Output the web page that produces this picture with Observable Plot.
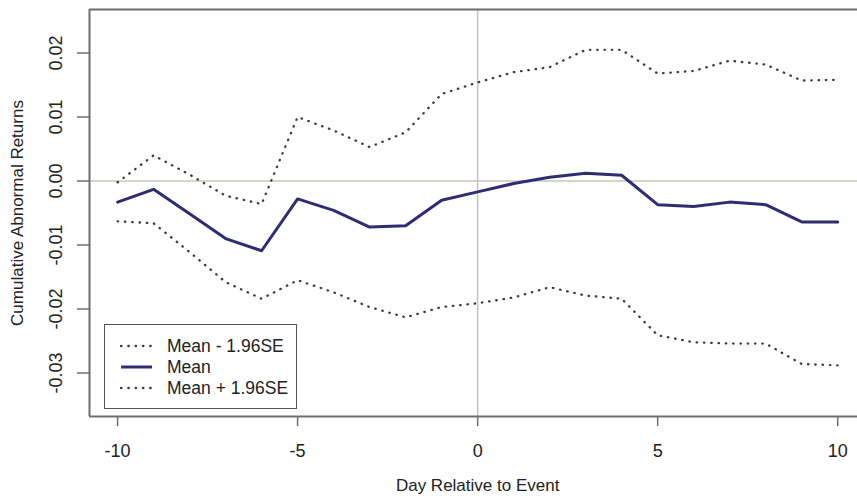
<!DOCTYPE html>
<html>
<head>
<meta charset="utf-8">
<script src="https://cdn.jsdelivr.net/npm/d3@7"></script>
<script src="https://cdn.jsdelivr.net/npm/@observablehq/plot@0.6"></script>
<style>
  html, body { margin: 0; padding: 0; background: #fff; overflow: hidden; }
  #wrap { position: relative; width: 857px; height: 502px; }
  .legend {
    position: absolute; left: 104px; top: 324px; width: 193px; height: 85px;
    box-sizing: border-box; border: 1.5px solid #555; background: #fff;
    font: 17.5px "Liberation Sans", Arial, sans-serif; color: #222;
  }
  .legend .row { position: absolute; left: 0; height: 20px; line-height: 20px; white-space: nowrap; }
  .legend svg { position: absolute; left: 15px; top: 5px; }
  .legend span { position: absolute; left: 62px; top: 0; }
</style>
</head>
<body>
<div id="wrap"></div>
<script>
// Event window (days relative to the event)
const days = [-10, -9, -8, -7, -6, -5, -4, -3, -2, -1, 0, 1, 2, 3, 4, 5, 6, 7, 8, 9, 10];

// Cumulative abnormal returns: mean and the 95% band
const meanCar = [-0.0033, -0.0013, -0.0051, -0.0090, -0.0109, -0.0028, -0.0046, -0.0072, -0.0070, -0.0030,
                 -0.0017, -0.0004, 0.0006, 0.0012, 0.0009, -0.0037, -0.0040, -0.0033, -0.0037, -0.0064, -0.0064];
const lowerCar = [-0.0063, -0.0066, -0.0111, -0.0158, -0.0184, -0.0155, -0.0174, -0.0197, -0.0213, -0.0197,
                  -0.0191, -0.0182, -0.0166, -0.0179, -0.0184, -0.0241, -0.0252, -0.0254, -0.0254, -0.0286, -0.0288];
const upperCar = [-0.0002, 0.0040, 0.0010, -0.0023, -0.0036, 0.0100, 0.0079, 0.0053, 0.0076, 0.0136,
                  0.0154, 0.0170, 0.0178, 0.0205, 0.0205, 0.0168, 0.0172, 0.0188, 0.0182, 0.0157, 0.0158];

// Axis ticks
const xTicks = [-10, -5, 0, 5, 10];
const yTicks = [-0.03, -0.02, -0.01, 0.00, 0.01, 0.02];

// Legend entries
const legendLabels = ["Mean - 1.96SE", "Mean", "Mean + 1.96SE"];

const xDomain = [-10.78, 10.55];
const yDomain = [-0.0368, 0.0268];

const rows = days.map((d, i) => ({day: d, mean: meanCar[i], lo: lowerCar[i], hi: upperCar[i]}));

const frameColor = "#6e6e6e";
const meanColor = "#2e2d73";
const dotted = {stroke: "#3c3c3c", strokeWidth: 2.3, strokeDasharray: "0.5 6.8", strokeLinecap: "round"};
const font = "'Liberation Sans', Arial, sans-serif";

const hyphenFmt = (digits) => (v) => (v < 0 ? "-" : "") + Math.abs(v).toFixed(digits);

const chart = Plot.plot({
  width: 857,
  height: 502,
  marginLeft: 89,
  marginRight: 0,
  marginTop: 9,
  marginBottom: 86,
  x: {domain: xDomain},
  y: {domain: yDomain},
  style: {fontFamily: font, fontSize: "17px", color: "#222", background: "#fff", overflow: "visible"},
  marks: [
    // reference lines at zero
    Plot.ruleY([0], {stroke: "#cdc5bd", strokeWidth: 1.6}),
    Plot.ruleX([0], {stroke: "#cdc5bd", strokeWidth: 1.6}),
    // confidence band
    Plot.line(rows, {x: "day", y: "lo", ...dotted}),
    Plot.line(rows, {x: "day", y: "hi", ...dotted}),
    // mean CAR
    Plot.line(rows, {x: "day", y: "mean", stroke: meanColor, strokeWidth: 3, strokeLinejoin: "round"}),
    // plot box (left, top, bottom)
    Plot.ruleY([yDomain[0]], {stroke: frameColor, strokeWidth: 2}),
    Plot.ruleY([yDomain[1]], {stroke: frameColor, strokeWidth: 2}),
    Plot.ruleX([xDomain[0]], {stroke: frameColor, strokeWidth: 2}),
    // axes
    Plot.axisX(xTicks, {
      tickSize: 10, tickPadding: 18, stroke: frameColor, strokeWidth: 1.5, fill: "#222",
      fontSize: 18, label: null, tickFormat: hyphenFmt(0)
    }),
    Plot.axisY(yTicks, {
      tickSize: 12, tickPadding: 16, tickRotate: -90, stroke: frameColor, strokeWidth: 1.5, fill: "#222",
      fontSize: 18, label: null, tickFormat: hyphenFmt(2)
    }),
    // axis titles
    Plot.text(["Day Relative to Event"], {text: d => d, x: 0, frameAnchor: "bottom", dy: 74, fill: "#222"}),
    Plot.text(["Cumulative Abnormal Returns"], {
      text: d => d, frameAnchor: "left", textAnchor: "middle", dx: -72, rotate: -90, fill: "#222"
    })
  ]
});

const wrap = document.getElementById("wrap");
wrap.appendChild(chart);

// Legend box in the lower-left corner of the panel
const legend = document.createElement("div");
legend.className = "legend";
const rowCenters = [21, 42, 63];
const swatch = [
  `<line x1="1" y1="5" x2="32" y2="5" stroke="#3c3c3c" stroke-width="2.3" stroke-dasharray="0.5 6.8" stroke-linecap="round"/>`,
  `<line x1="1" y1="5" x2="32" y2="5" stroke="${meanColor}" stroke-width="3"/>`,
  `<line x1="1" y1="5" x2="32" y2="5" stroke="#3c3c3c" stroke-width="2.3" stroke-dasharray="0.5 6.8" stroke-linecap="round"/>`
];
legendLabels.forEach((label, i) => {
  const row = document.createElement("div");
  row.className = "row";
  row.style.top = (rowCenters[i] - 10) + "px";
  row.innerHTML = `<svg width="34" height="10">${swatch[i]}</svg><span>${label}</span>`;
  legend.appendChild(row);
});
wrap.appendChild(legend);
</script>
</body>
</html>
